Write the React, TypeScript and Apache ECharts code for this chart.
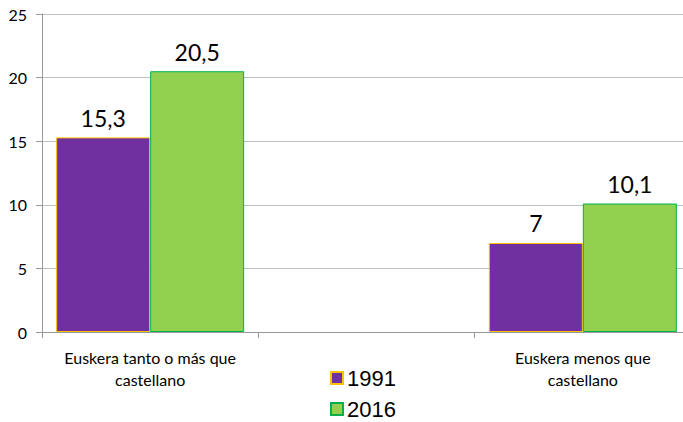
import React, { useEffect, useRef } from "react";
import * as echarts from "echarts";

const categories = ["Euskera tanto o más que\ncastellano", "", "Euskera menos que\ncastellano"];
const values1991 = [15.3, "-", 7];
const values2016 = [20.5, "-", 10.1];
const yTicks = [0, 5, 10, 15, 20, 25];

export default function App() {
  const ref = useRef<HTMLDivElement>(null);
  useEffect(() => {
    if (!ref.current) return;
    const chart = echarts.init(ref.current, null, { renderer: "svg" });
    const fmt = (p: any) => String(p.value).replace(".", ",");
    const labelStyle = {
      show: true,
      position: "top",
      distance: 8,
      fontSize: 23,
      fontFamily: "Lato",
      color: "#000",
      formatter: fmt,
    };
    chart.setOption({
      animation: false,
      backgroundColor: "#fff",
      grid: { left: 42, top: 14, width: 649, height: 318 },
      legend: {
        orient: "vertical",
        left: 325,
        top: 362,
        height: 60,
        icon: "rect",
        itemWidth: 12,
        itemHeight: 12,
        itemGap: 9,
        textStyle: { fontSize: 22, fontFamily: "Liberation Sans", color: "#000", padding: [0, 0, 0, -1] },
        data: ["1991", "2016"],
      },
      xAxis: {
        type: "category",
        data: categories,
        axisLine: { lineStyle: { color: "#999" } },
        axisTick: { show: true, length: 6, lineStyle: { color: "#999" } },
        axisLabel: {
          fontSize: 16,
          lineHeight: 22,
          color: "#000",
          fontFamily: "Lato",
          margin: 14,
          interval: 0,
        },
      },
      yAxis: {
        type: "value",
        min: yTicks[0],
        max: yTicks[yTicks.length - 1],
        interval: 5,
        axisLine: { show: true, lineStyle: { color: "#999" } },
        axisTick: { show: true, length: 6, lineStyle: { color: "#999" } },
        axisLabel: { fontSize: 16, color: "#000", fontFamily: "Lato", margin: 15 },
        splitLine: { lineStyle: { color: "#bfbfbf" } },
      },
      series: [
        {
          name: "1991",
          type: "bar",
          data: values1991,
          barWidth: 94,
          barGap: "0%",
          itemStyle: { color: "#7030A0", borderColor: "#FFC000", borderWidth: 1 },
          label: labelStyle,
        },
        {
          name: "2016",
          type: "bar",
          data: values2016,
          barWidth: 94,
          barGap: "0%",
          itemStyle: { color: "#92D050", borderColor: "#00B050", borderWidth: 1 },
          label: labelStyle,
        },
      ],
    });
    return () => chart.dispose();
  }, []);
  return (
    <div style={{ position: "fixed", left: 0, top: 0, width: 683, height: 422, overflow: "hidden" }}>
      <div ref={ref} style={{ width: 700, height: 422 }} />
    </div>
  );
}
